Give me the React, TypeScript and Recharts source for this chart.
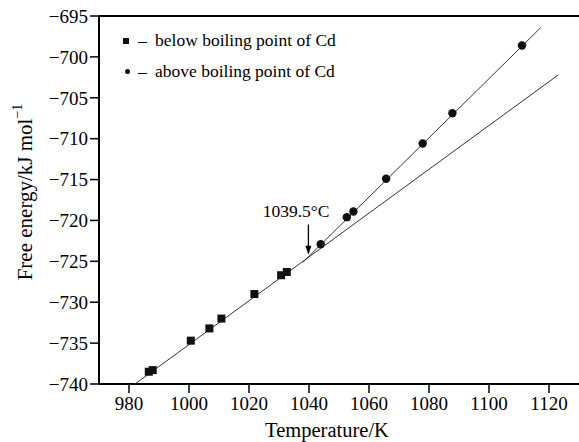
import {
    ComposedChart,
    Scatter,
    XAxis,
    YAxis,
    ReferenceLine,
    ReferenceDot,
} from 'recharts';

// measured points below / above the Cd boiling point
const belowT = [986.6, 987.9, 1000.6, 1006.8, 1010.8, 1021.8, 1030.7, 1032.6];
const belowG = [-738.5, -738.3, -734.7, -733.2, -732.0, -729.0, -726.7, -726.3];
const aboveT = [1043.9, 1052.6, 1054.8, 1065.7, 1077.9, 1087.8, 1111.0];
const aboveG = [-722.9, -719.6, -718.9, -714.9, -710.6, -706.9, -698.6];

// fitted straight lines (end points)
const lowFitT = [982, 1123.1];
const lowFitG = [-740, -702.2];
const highFitT = [1038, 1117.3];
const highFitG = [-725.1, -696.4];

const xTicks = [980, 1000, 1020, 1040, 1060, 1080, 1100, 1120];
const yTicks = [-740, -735, -730, -725, -720, -715, -710, -705, -700, -695];

const legendLabels = ['below boiling point of Cd', 'above boiling point of Cd'];
const boilLabel = '1039.5°C';
const arrowT = 1039.8;
const arrowTop = -720.5;
const arrowTip = -724.2;

const serif = 'Liberation Serif, DejaVu Serif, serif';

const toPoints = (ts: number[], gs: number[]) => ts.map((t, i) => ({ x: t, y: gs[i] }));

const below = toPoints(belowT, belowG);
const above = toPoints(aboveT, aboveG);
const lowFit = toPoints(lowFitT, lowFitG);
const highFit = toPoints(highFitT, highFitG);

const fmt = (v: number) => (v < 0 ? `\u2212${Math.abs(v)}` : `${v}`);

// eslint-disable-next-line @typescript-eslint/no-explicit-any
const SquareDot = (p: any) => (
    <rect x={p.cx - 4} y={p.cy - 4} width={8} height={8} fill="#111" />
);
// eslint-disable-next-line @typescript-eslint/no-explicit-any
const CircleDot = (p: any) => <circle cx={p.cx} cy={p.cy} r={4.2} fill="#111" />;
const NoDot = () => <g />;

export default function App() {
    return (
        <div style={{ position: 'absolute', left: 0, top: 0, width: 579, height: 442, background: '#fff' }}>
            <ComposedChart
                width={579}
                height={442}
                margin={{ top: 16, right: 0, left: 0, bottom: 0 }}
            >
                <XAxis
                    type="number"
                    dataKey="x"
                    domain={[970, 1130]}
                    ticks={xTicks}
                    allowDataOverflow
                    height={58}
                    tickSize={9}
                    tickMargin={4}
                    tick={{ fill: '#000', fontSize: 19, fontFamily: serif }}
                    axisLine={{ stroke: '#000', strokeWidth: 2 }}
                    tickLine={{ stroke: '#000', strokeWidth: 1.5 }}
                    label={{
                        content: () => (
                            <text x={327} y={437} textAnchor="middle" fontSize={20.5} fontFamily={serif} fill="#000">
                                Temperature/K
                            </text>
                        ),
                    }}
                />
                <YAxis
                    type="number"
                    dataKey="y"
                    domain={[-740, -695]}
                    ticks={yTicks}
                    allowDataOverflow
                    width={99}
                    tickSize={9}
                    tickMargin={2}
                    tickFormatter={fmt}
                    tick={{ fill: '#000', fontSize: 19, fontFamily: serif }}
                    axisLine={{ stroke: '#000', strokeWidth: 2 }}
                    tickLine={{ stroke: '#000', strokeWidth: 1.5 }}
                    label={{
                        content: () => (
                            <text
                                x={25}
                                y={192}
                                transform="rotate(-90 25 192)"
                                textAnchor="middle"
                                dominantBaseline="central"
                                fontSize={21}
                                fontFamily={serif}
                                fill="#000"
                            >
                                Free energy/kJ mol
                                <tspan dy={-8} fontSize={14}>{'\u22121'}</tspan>
                            </text>
                        ),
                    }}
                />
                <ReferenceLine y={-695} stroke="#000" strokeWidth={2} />
                <Scatter data={lowFit} line={{ stroke: '#333', strokeWidth: 1 }} shape={NoDot} isAnimationActive={false} />
                <Scatter data={highFit} line={{ stroke: '#333', strokeWidth: 1 }} shape={NoDot} isAnimationActive={false} />
                <Scatter data={below} shape={SquareDot} isAnimationActive={false} />
                <Scatter data={above} shape={CircleDot} isAnimationActive={false} />
                <ReferenceLine
                    segment={[
                        { x: arrowT, y: arrowTop },
                        { x: arrowT, y: arrowTip + 0.6 },
                    ]}
                    stroke="#000"
                    strokeWidth={1.3}
                />
                <ReferenceDot
                    x={arrowT}
                    y={arrowTip}
                    shape={(p: any) => (
                        <path d={`M${p.cx - 3},${p.cy - 9} L${p.cx + 3},${p.cy - 9} L${p.cx},${p.cy} Z`} fill="#000" />
                    )}
                />
                <ReferenceDot
                    x={1035.7}
                    y={-719.6}
                    shape={(p: any) => (
                        <text x={p.cx} y={p.cy} textAnchor="middle" fontSize={17.5} fontFamily={serif} fill="#000">
                            {boilLabel}
                        </text>
                    )}
                />
            </ComposedChart>
            <div style={{ position: 'absolute', left: 120, top: 25, fontFamily: serif, fontSize: 17.5, color: '#000' }}>
                {legendLabels.map((lbl, i) => (
                    <div key={lbl} style={{ position: 'relative', height: 31, width: 260 }}>
                        <span
                            style={{
                                position: 'absolute',
                                left: i === 0 ? 3 : 5,
                                top: i === 0 ? 12.5 : 13,
                                width: i === 0 ? 6 : 5,
                                height: i === 0 ? 6 : 5,
                                borderRadius: i === 0 ? 0 : '50%',
                                background: '#111',
                            }}
                        />
                        <span style={{ position: 'absolute', left: 18, top: 4, lineHeight: '22px' }}>{'\u2013'}</span>
                        <span style={{ position: 'absolute', left: 35, top: 4, lineHeight: '22px', whiteSpace: 'nowrap' }}>{lbl}</span>
                    </div>
                ))}
            </div>
        </div>
    );
}
